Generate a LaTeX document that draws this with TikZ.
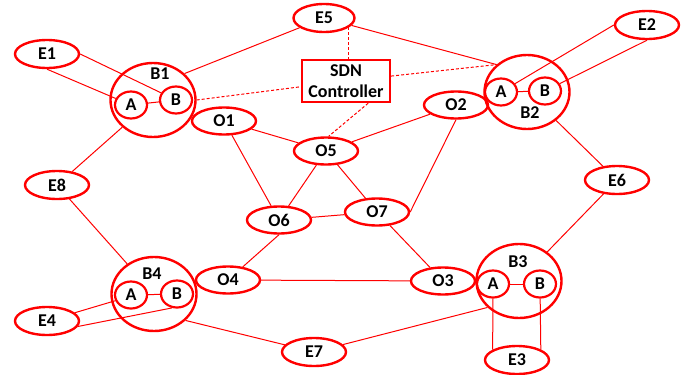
\documentclass[tikz,border=0pt]{standalone}
\usepackage{fontspec}
\setmainfont{Carlito}
\usetikzlibrary{shapes.geometric}
\newcommand\lbltxt{\fontsize{18}{21}\selectfont\bfseries}
\begin{document}
\begin{tikzpicture}[x=1pt,y=-1pt,
 ell/.style={ellipse,draw=red,line width=2.4pt,minimum width=64pt,minimum height=28pt,inner sep=0pt,font=\lbltxt},
 sub/.style={ellipse,draw=red,line width=2.2pt,minimum width=32pt,minimum height=27pt,inner sep=0pt,font=\lbltxt},
 big/.style={ellipse,draw=red,line width=2.4pt,minimum width=85pt,minimum height=74pt,inner sep=0pt},
 lab/.style={font=\lbltxt,inner sep=0pt},
 link/.style={draw=red,line width=1pt},
 ctl/.style={draw=red,line width=1pt,dash pattern=on 3pt off 2pt}]
\useasboundingbox (0,0) rectangle (697,375);
% big circles
\node[big] (B1) at (153,100) {};
\node[big] (B2) at (527,92) {};
\node[big] (B3) at (519,281) {};
\node[big] (B4) at (154,294) {};
\node[lab] (B1l) at (160,74) {B1};
\node[lab] (B2l) at (530,113) {B2};
\node[lab] (B3l) at (518,262) {B3};
\node[lab] (B4l) at (152,274) {B4};
% sub circles
\node[sub] (B1A) at (131,105) {A};
\node[sub] (B1B) at (176,100) {B};
\node[sub] (B2A) at (501,92) {A};
\node[sub] (B2B) at (545,91) {B};
\node[sub] (B3A) at (493,284) {A};
\node[sub] (B3B) at (540,284) {B};
\node[sub] (B4A) at (131,295) {A};
\node[sub] (B4B) at (177,294) {B};
% end nodes
\node[ell] (E1) at (47,54) {E1};
\node[ell,minimum width=61pt] (E5) at (324,18) {E5};
\node[ell] (E2) at (647,25) {E2};
\node[ell] (E8) at (57,185) {E8};
\node[ell] (E6) at (617,180) {E6};
\node[ell] (E4) at (47,321) {E4};
\node[ell] (E7) at (314,352) {E7};
\node[ell] (E3) at (517,360) {E3};
% O nodes
\node[ell,minimum height=27pt] (O1) at (224,121) {O1};
\node[ell,minimum height=27pt] (O2) at (456,105) {O2};
\node[ell,minimum height=27pt] (O5) at (326,151) {O5};
\node[ell,minimum height=27pt] (O6) at (279,220) {O6};
\node[ell,minimum height=27pt] (O7) at (377,212) {O7};
\node[ell,minimum height=27pt] (O4) at (228,280) {O4};
\node[ell,minimum height=27pt] (O3) at (443,281) {O3};
% controller
\node[draw=red,line width=2.4pt,minimum width=88pt,minimum height=42pt,inner sep=0pt,align=center,font=\lbltxt] (SDN) at (346,81) {SDN\\Controller};
% links
\draw[link] (E1.south) -- (B1A);
\draw[link] (E1.east) -- (B1B);
\draw[link] (B1A) -- (B1B);
\draw[link] (B1.40) -- (E5);
\draw[link] (B1) -- (E8);
\draw[link] (E5) -- (B2.138);
\draw[link] (E2.west) -- (B2A);
\draw[link] (E2.south) -- (B2B);
\draw[link] (B2A) -- (B2B);
\draw[link] (B2) -- (E6);
\draw[link] (E6) -- (B3);
\draw[link] (B3A) -- (B3B);
\draw[link] (B3A) -- (E3.157);
\draw[link] (B3B) -- (E3.24);
\draw[link] (E7) -- (B3.220);
\draw[link] (B4.-40) -- (E7);
\draw[link] (E8) -- (B4);
\draw[link] (B4A) -- (B4B);
\draw[link] (E4) -- (B4A.200);
\draw[link] (E4.-10) -- (B4B.250);
\draw[link] (O1) -- (O5);
\draw[link] (O1) -- (O6);
\draw[link] (O5) -- (O6);
\draw[link] (O5) -- (O2);
\draw[link] (O5) -- (O7);
\draw[link] (O2.south) -- (O7.east);
\draw[link] (O6) -- (O7);
\draw[link] (O7) -- (O3);
\draw[link] (O6.south) -- (O4);
\draw[link] (O4) -- (O3);
% controller links
\draw[ctl] (B1.east) -- (SDN);
\draw[ctl] (E5.-21) -- (E5.-21 |- SDN.north);
\draw[ctl] (SDN) -- (B2.138);
\draw[ctl] (SDN.-45) -- (O5.80);
\end{tikzpicture}
\end{document}
